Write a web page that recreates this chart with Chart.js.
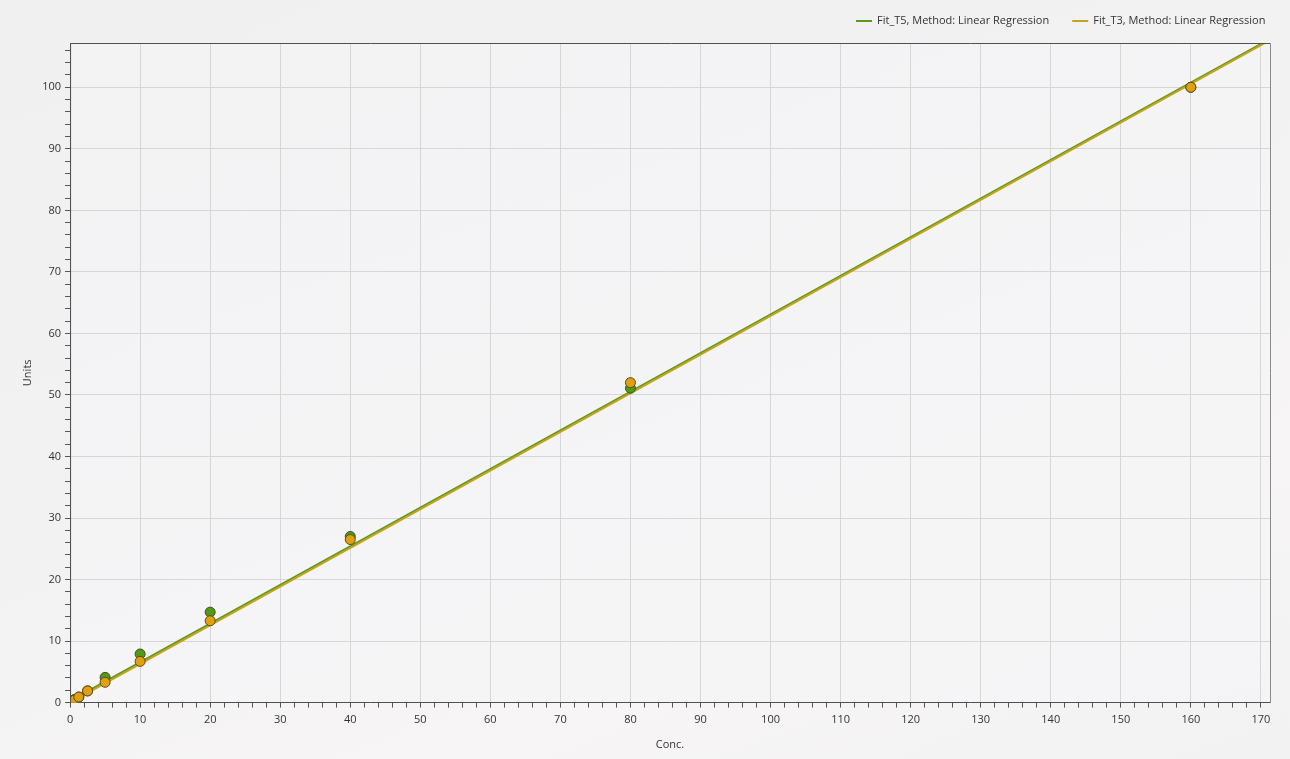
<!DOCTYPE html>
<html>
<head>
<meta charset="utf-8">
<script src="https://cdn.jsdelivr.net/npm/chart.js@4/dist/chart.umd.min.js"></script>
<style>
  html, body { margin: 0; padding: 0; background: #f0f0f0; }
  #wrap { width: 1290px; height: 759px; position: relative;
          background: linear-gradient(160deg, #f0f0f0 0%, #f2f2f3 45%, #f7f5f6 75%, #f2f2f3 100%); }
</style>
</head>
<body>
<div id="wrap"><canvas id="chart"></canvas></div>
<script>
// concentrations and measured units
const concT5 = [0.3125, 0.625, 1.25, 2.5, 5, 10, 20, 40, 80, 160];
const unitsT5 = [0.2, 0.5, 0.9, 1.9, 4.1, 7.9, 14.7, 27.0, 51.1, 100.0];
const concT3 = [0.3125, 0.625, 1.25, 2.5, 5, 10, 20, 40, 80, 160];
const unitsT3 = [0.2, 0.4, 0.9, 1.9, 3.3, 6.7, 13.3, 26.5, 52.0, 100.0];

// fitted line end points
const fitX = [0, 172];
const fitT5 = [0.3, 108.3];
const fitT3 = [0.0, 108.1];

const seriesNames = ['Fit_T5, Method: Linear Regression', 'Fit_T3, Method: Linear Regression'];
const xMax = 171.3;
const yMax = 107.2;

const green = '#5a9a1e';
const orange = '#c9a21c';

const pts = (xs, ys) => xs.map((x, i) => ({ x: x, y: ys[i] }));

const plotBg = {
    id: 'plotBg',
    beforeDraw(chart) {
        const { ctx, chartArea: a } = chart;
        ctx.save();
        ctx.fillStyle = 'rgba(245,245,246,0.6)';
        ctx.fillRect(a.left, a.top, a.right - a.left, a.bottom - a.top);
        ctx.restore();
    },
    afterDraw(chart) {
        const { ctx, chartArea: a } = chart;
        ctx.save();
        ctx.strokeStyle = '#505050';
        ctx.lineWidth = 1;
        ctx.beginPath();
        ctx.moveTo(a.left + 0.5, a.bottom + 0.5);
        ctx.lineTo(a.left + 0.5, a.top + 0.5);
        ctx.lineTo(a.right + 0.5, a.top + 0.5);
        ctx.stroke();
        ctx.strokeStyle = '#8a8a8a';
        ctx.beginPath();
        ctx.moveTo(a.right + 0.5, a.top + 0.5);
        ctx.lineTo(a.right + 0.5, a.bottom + 0.5);
        ctx.stroke();

        // legend, top right
        ctx.font = '11px "Open Sans"';
        ctx.textBaseline = 'middle';
        const colors = [green, orange];
        let x = 856;
        const y = 21;
        seriesNames.forEach((name, i) => {
            ctx.fillStyle = colors[i];
            ctx.fillRect(x, y - 1, 16, 2);
            ctx.fillStyle = '#333';
            ctx.fillText(name, x + 21, y);
            x += 21 + ctx.measureText(name).width + 23;
        });
        ctx.restore();
    }
};

const major = v => Math.abs(v % 10) < 1e-6;

function minorTicks(max) {
    const t = [];
    for (let v = 0; v <= max; v += 2) t.push({ value: v });
    return t;
}

function axis(max, title, tickPad, titlePad) {
    return {
        type: 'linear',
        min: 0,
        max: max,
        afterBuildTicks: s => { s.ticks = minorTicks(max); },
        border: { display: true, color: '#505050', width: 1 },
        grid: {
            color: c => (c.tick && major(c.tick.value) && c.tick.value > 0) ? '#d6d6d6' : 'rgba(0,0,0,0)',
            tickColor: '#555',
            tickLength: 5
        },
        ticks: {
            autoSkip: false,
            maxRotation: 0,
            color: '#333',
            font: { family: 'Open Sans', size: 11 },
            padding: tickPad,
            callback: v => major(v) ? String(v) : ''
        },
        title: {
            display: true,
            text: title,
            color: '#333',
            padding: titlePad,
            font: { family: 'Open Sans', size: 11 }
        }
    };
}

new Chart(document.getElementById('chart'), {
    type: 'scatter',
    data: {
        datasets: [
            {
                label: seriesNames[0],
                type: 'line',
                data: pts(fitX, fitT5),
                borderColor: green,
                borderWidth: 2,
                pointRadius: 0,
                fill: false,
                order: 4
            },
            {
                label: seriesNames[1],
                type: 'line',
                data: pts(fitX, fitT3),
                borderColor: orange,
                borderWidth: 2,
                pointRadius: 0,
                fill: false,
                order: 3
            },
            {
                label: 'T5',
                data: pts(concT5, unitsT5),
                backgroundColor: '#4f9a18',
                borderColor: '#4a4a20',
                borderWidth: 1,
                pointRadius: 5,
                order: 2
            },
            {
                label: 'T3',
                data: pts(concT3, unitsT3),
                backgroundColor: '#e0a010',
                borderColor: '#5a4a20',
                borderWidth: 1,
                pointRadius: 5,
                order: 1
            }
        ]
    },
    options: {
        responsive: true,
        maintainAspectRatio: false,
        animation: false,
        layout: { padding: { left: 17, right: 20, top: 43, bottom: 4 } },
        plugins: {
            tooltip: { enabled: false },
            legend: { display: false }
        },
        scales: {
            x: axis(xMax, 'Conc.', 6, { top: 5, bottom: 4 }),
            y: axis(yMax, 'Units', 4, 4)
        }
    },
    plugins: [plotBg]
});
</script>
</body>
</html>
